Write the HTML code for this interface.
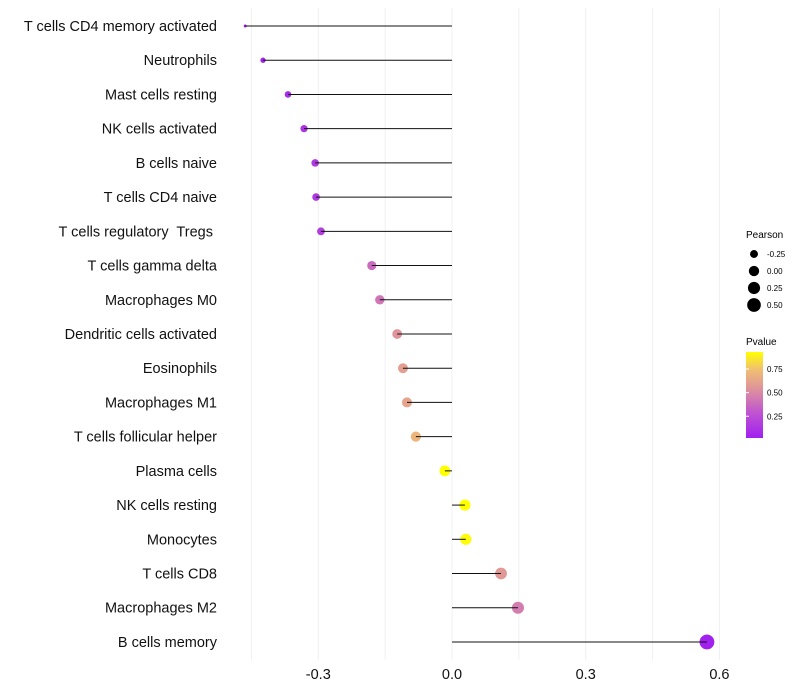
<!DOCTYPE html>
<html><head><meta charset="utf-8"><style>
body{margin:0;background:#fff;}
svg{display:block;font-family:"Liberation Sans",sans-serif;}
text{white-space:pre;}
</style></head><body>
<svg id="chart" width="800" height="700">
<g id="grid"></g>
<g id="marks"></g>
<g id="axes"></g>
<g id="legend">
<defs><linearGradient id="pg" x1="0" y1="1" x2="0" y2="0">
<stop offset="0" stop-color="#a020f0"/><stop offset="0.3" stop-color="#c055d0"/><stop offset="0.55" stop-color="#dc8ea0"/><stop offset="0.8" stop-color="#f0c070"/><stop offset="1" stop-color="#ffff00"/></linearGradient></defs>
<text x="746" y="238" font-size="10">Pearson</text>
<text x="746" y="345" font-size="10">Pvalue</text>
<rect x="746" y="352" width="17" height="86" fill="url(#pg)"/>
</g>
</svg>
<script>
const categories=["T cells CD4 memory activated","Neutrophils","Mast cells resting","NK cells activated","B cells naive","T cells CD4 naive","T cells regulatory  Tregs ","T cells gamma delta","Macrophages M0","Dendritic cells activated","Eosinophils","Macrophages M1","T cells follicular helper","Plasma cells","NK cells resting","Monocytes","T cells CD8","Macrophages M2","B cells memory"];
const pearson=[-0.464,-0.424,-0.368,-0.332,-0.307,-0.305,-0.294,-0.180,-0.162,-0.123,-0.110,-0.101,-0.081,-0.016,0.029,0.031,0.110,0.148,0.572];
const pvalues=[0.02,0.04,0.08,0.12,0.15,0.15,0.17,0.38,0.42,0.55,0.60,0.62,0.70,0.97,0.93,0.92,0.57,0.45,0.03];
const xTicks=[-0.3,0.0,0.3,0.6];
const xTickLabels=["-0.3","0.0","0.3","0.6"];
const sizeBreaks=[-0.25,0.00,0.25,0.50];
const sizeLabels=["-0.25","0.00","0.25","0.50"];
const pBreaks=[0.25,0.50,0.75];
const pLabels=["0.25","0.50","0.75"];

const NS="http://www.w3.org/2000/svg";
const X=v=>452+v*445.7;
const Y=i=>26+i*34.22;
const R=v=>1.5+5.9*Math.sqrt(Math.max(0,(v+0.464)/1.036));
const P=p=>438-(p-0.02)*(86/0.91);
const stops=[[0,[160,32,240]],[0.3,[192,85,208]],[0.55,[220,142,160]],[0.8,[240,192,112]],[1,[255,255,0]]];
function col(p){let t=Math.min(1,Math.max(0,(p-0.02)/0.91));for(let k=1;k<stops.length;k++){if(t<=stops[k][0]){const a=stops[k-1],b=stops[k],f=(t-a[0])/(b[0]-a[0]);return "rgb("+a[1].map((c,j)=>Math.round(c+(b[1][j]-c)*f)).join(",")+")";}}return "rgb(255,255,0)";}
function mk(tag,attrs,parent){const e=document.createElementNS(NS,tag);for(const k in attrs)e.setAttribute(k,attrs[k]);parent.appendChild(e);return e;}
const grid=document.getElementById('grid'),marks=document.getElementById('marks'),axes=document.getElementById('axes'),legend=document.getElementById('legend');
for(let v=-0.45;v<=0.61;v+=0.15){const g=mk('line',{x1:X(v),x2:X(v),y1:8,y2:660,stroke:'#f0f0f0','stroke-width':1},grid);

}
categories.forEach((c,i)=>{
const pt=mk('circle',{cx:X(pearson[i]),cy:Y(i),r:R(pearson[i]),fill:col(pvalues[i])},marks);


const ln=mk('line',{x1:X(0),x2:X(pearson[i]),y1:Y(i),y2:Y(i),stroke:'#111','stroke-width':1},marks);


const t=mk('text',{x:217,y:Y(i)+5,'text-anchor':'end','font-size':14.5,fill:'#111'},axes);t.textContent=c;


});
xTicks.forEach((v,i)=>{const t=mk('text',{x:X(v),y:679,'text-anchor':'middle','font-size':14.5,fill:'#111'},axes);t.textContent=xTickLabels[i];

});
sizeBreaks.forEach((v,i)=>{const y=254+i*17;
const c=mk('circle',{cx:754,cy:y,r:R(v)*0.95,fill:'#000'},legend);


const t=mk('text',{x:767,y:y+3,'font-size':8},legend);t.textContent=sizeLabels[i];

});
pBreaks.forEach((v,i)=>{const y=P(v);
const l=mk('line',{x1:746,x2:749,y1:y,y2:y,stroke:'#fff'},legend);


const t=mk('text',{x:767,y:y+3,'font-size':8},legend);t.textContent=pLabels[i];

});
</script>
</body></html>
